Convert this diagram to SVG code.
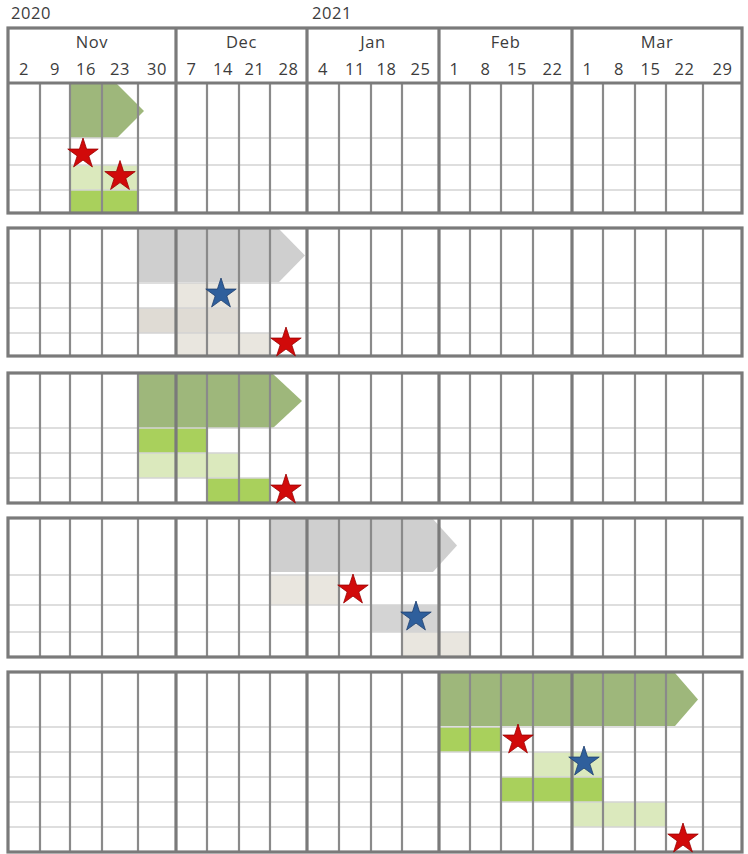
<svg xmlns="http://www.w3.org/2000/svg" width="748" height="854" viewBox="0 0 748 854">
<style>
.bg{fill:#ffffff}
.txt{font-family:"Open Sans","Liberation Sans",sans-serif;font-size:16.5px;letter-spacing:0.6px;fill:#3c3c3c;text-anchor:middle}
.yr{font-family:"Open Sans","Liberation Sans",sans-serif;font-size:16.5px;letter-spacing:0.6px;fill:#3c3c3c}
.wk{fill:none;stroke:#8a8a8a;stroke-width:2.2}
.mo{fill:none;stroke:#7a7a7a;stroke-width:3.2}
.row{fill:none;stroke:#d4d4d4;stroke-width:1.6}
.bd{fill:none;stroke:#7a7a7a;stroke-width:3.2}
.garrow{fill:#9eb77b}
.grarrow{fill:#cfcfcf}
.bright{fill:#a9d05c}
.light{fill:#dbe9bd}
.beige{fill:#e9e6df}
.beige2{fill:#dfdbd4}
.gray{fill:#d4d4d4}
.red{fill:#d10a0a;stroke:#9a0000;stroke-width:0.8}
.blue{fill:#2f5f9c;stroke:#1e3f6e;stroke-width:0.8}
</style>
<defs>
<path id="star" d="M0 -16L3.59 -4.94L15.22 -4.94L5.8 1.89L9.4 12.94L0 6.11L-9.4 12.94L-5.8 1.89L-15.22 -4.94L-3.59 -4.94Z"/>
</defs>
<rect class="bg" x="0" y="0" width="748" height="854"/>

<g id="header">
<text class="yr" x="11" y="19">2020</text>
<text class="yr" x="312" y="19">2021</text>
<text class="txt" x="92" y="48">Nov</text>
<text class="txt" x="241.5" y="48">Dec</text>
<text class="txt" x="373" y="48">Jan</text>
<text class="txt" x="505.5" y="48">Feb</text>
<text class="txt" x="657" y="48">Mar</text>
<text class="txt" x="24" y="75">2</text>
<text class="txt" x="55" y="75">9</text>
<text class="txt" x="86" y="75">16</text>
<text class="txt" x="120" y="75">23</text>
<text class="txt" x="157" y="75">30</text>
<text class="txt" x="191.5" y="75">7</text>
<text class="txt" x="223" y="75">14</text>
<text class="txt" x="254.5" y="75">21</text>
<text class="txt" x="288.5" y="75">28</text>
<text class="txt" x="323" y="75">4</text>
<text class="txt" x="355" y="75">11</text>
<text class="txt" x="386.5" y="75">18</text>
<text class="txt" x="420.5" y="75">25</text>
<text class="txt" x="454.5" y="75">1</text>
<text class="txt" x="485.5" y="75">8</text>
<text class="txt" x="517" y="75">15</text>
<text class="txt" x="552.5" y="75">22</text>
<text class="txt" x="587.5" y="75">1</text>
<text class="txt" x="619" y="75">8</text>
<text class="txt" x="650.5" y="75">15</text>
<text class="txt" x="684.5" y="75">22</text>
<text class="txt" x="722.5" y="75">29</text>
</g>

<g id="panel1">
<polygon class="garrow" points="70,84 117,84 144,111 117,138 70,138"/>
<rect class="light" x="70" y="165" width="68" height="25"/>
<rect class="bright" x="70" y="190" width="68" height="23"/>
<path class="row" d="M8 138H742M8 165H742M8 190H742"/>
<path class="wk" d="M40 83V213M70 83V213M102 83V213M138 83V213M207 83V213M239 83V213M270 83V213M339 83V213M371 83V213M402 83V213M470 83V213M501 83V213M533 83V213M603 83V213M635 83V213M666 83V213M703 83V213"/>
<path class="mo" d="M176 28V213M307 28V213M439 28V213M572 28V213M8 83H742"/>
<rect class="bd" x="8" y="28" width="734" height="185"/>
<use href="#star" class="red" x="83" y="154"/>
<use href="#star" class="red" x="120" y="176.5"/>
</g>

<g id="panel2">
<polygon class="grarrow" points="138,229 279,229 305,255.5 279,282 138,282"/>
<rect class="beige" x="176" y="283" width="63" height="25"/>
<rect class="beige2" x="138" y="308" width="101" height="25"/>
<rect class="beige" x="176" y="333" width="94" height="23"/>
<path class="row" d="M8 283H742M8 308H742M8 333H742"/>
<path class="wk" d="M40 228V356M70 228V356M102 228V356M138 228V356M207 228V356M239 228V356M270 228V356M339 228V356M371 228V356M402 228V356M470 228V356M501 228V356M533 228V356M603 228V356M635 228V356M666 228V356M703 228V356"/>
<path class="mo" d="M176 228V356M307 228V356M439 228V356M572 228V356"/>
<rect class="bd" x="8" y="228" width="734" height="128"/>
<use href="#star" class="blue" x="221" y="294"/>
<use href="#star" class="red" x="286" y="343"/>
</g>

<g id="panel3">
<polygon class="garrow" points="138,374 273,374 302,401 273,428 138,428"/>
<rect class="bright" x="138" y="428" width="69" height="25"/>
<rect class="light" x="138" y="453" width="101" height="25"/>
<rect class="bright" x="207" y="478" width="63" height="25"/>
<path class="row" d="M8 428H742M8 453H742M8 478H742"/>
<path class="wk" d="M40 373V503M70 373V503M102 373V503M138 373V503M207 373V503M239 373V503M270 373V503M339 373V503M371 373V503M402 373V503M470 373V503M501 373V503M533 373V503M603 373V503M635 373V503M666 373V503M703 373V503"/>
<path class="mo" d="M176 373V503M307 373V503M439 373V503M572 373V503"/>
<rect class="bd" x="8" y="373" width="734" height="130"/>
<use href="#star" class="red" x="286" y="490"/>
</g>

<g id="panel4">
<polygon class="grarrow" points="269,519 433,519 457,545.5 433,572 269,572"/>
<rect class="beige" x="270" y="575" width="69" height="30"/>
<rect class="gray" x="371" y="605" width="68" height="27"/>
<rect class="beige" x="402" y="632" width="68" height="25"/>
<path class="row" d="M8 575H742M8 605H742M8 632H742"/>
<path class="wk" d="M40 518V657M70 518V657M102 518V657M138 518V657M207 518V657M239 518V657M270 518V657M339 518V657M371 518V657M402 518V657M470 518V657M501 518V657M533 518V657M603 518V657M635 518V657M666 518V657M703 518V657"/>
<path class="mo" d="M176 518V657M307 518V657M439 518V657M572 518V657"/>
<rect class="bd" x="8" y="518" width="734" height="139"/>
<use href="#star" class="red" x="353" y="590"/>
<use href="#star" class="blue" x="416" y="617"/>
</g>

<g id="panel5">
<polygon class="garrow" points="439,673 675,673 698,699.5 675,726 439,726"/>
<rect class="bright" x="439" y="727" width="62" height="25"/>
<rect class="light" x="533" y="752" width="70" height="25"/>
<rect class="bright" x="501" y="777" width="102" height="25"/>
<rect class="light" x="572" y="802" width="94" height="25"/>
<path class="row" d="M8 727H742M8 752H742M8 777H742M8 802H742M8 827H742"/>
<path class="wk" d="M40 672V852M70 672V852M102 672V852M138 672V852M207 672V852M239 672V852M270 672V852M339 672V852M371 672V852M402 672V852M470 672V852M501 672V852M533 672V852M603 672V852M635 672V852M666 672V852M703 672V852"/>
<path class="mo" d="M176 672V852M307 672V852M439 672V852M572 672V852"/>
<rect class="bd" x="8" y="672" width="734" height="180"/>
<use href="#star" class="red" x="518" y="740"/>
<use href="#star" class="blue" x="584" y="762"/>
<use href="#star" class="red" x="683" y="839"/>
</g>
</svg>
